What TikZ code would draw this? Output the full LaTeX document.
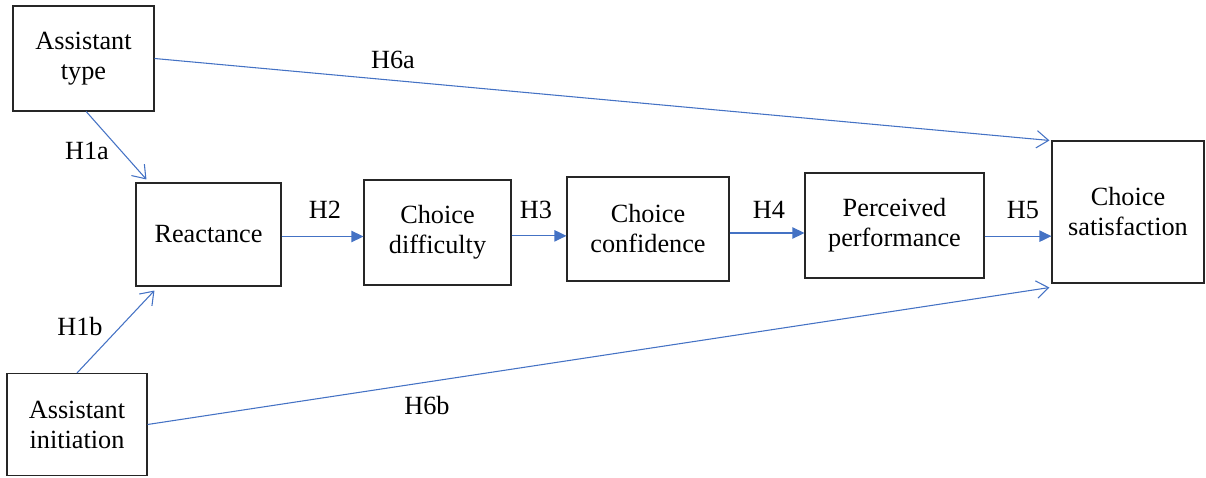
\documentclass[tikz,border=0pt]{standalone}
\usepackage{fontspec}
\setmainfont{Liberation Serif}
\usetikzlibrary{arrows.meta,calc}
\definecolor{lineblue}{HTML}{4472C4}
\tikzset{
  box/.style={draw=black!85, line width=0.8pt, align=center, inner sep=0pt, font=\fontsize{19.7}{22.5}\selectfont},
  lbl/.style={inner sep=0pt, font=\fontsize{19.7}{22.5}\selectfont},
  openarrow/.style={draw=lineblue, line width=0.8pt, -{Straight Barb[length=9pt,width=13pt,line width=0.8pt]}},
  fillarrow/.style={draw=lineblue, line width=0.8pt, -{Triangle[length=9pt,width=8.5pt]}, fill=lineblue},
}
\begin{document}
\begin{tikzpicture}[x=0.75pt,y=-0.75pt]
\useasboundingbox (0,0) rectangle (1206,478);
\node[box, minimum width=105.75pt, minimum height=78.75pt] (at) at (83.5,58.5) {Assistant\\type};
\node[box, minimum width=108.75pt, minimum height=77.25pt] (re) at (208.5,234.5) {Reactance};
\node[box, minimum width=110.25pt, minimum height=78.75pt] (cd) at (437.5,232.5) {Choice\\difficulty};
\node[box, minimum width=121.5pt, minimum height=78pt] (cc) at (648,229) {Choice\\confidence};
\node[box, minimum width=134.25pt, minimum height=78.75pt] (pp) at (894.5,225.5) {Perceived\\performance};
\node[box, minimum width=114pt, minimum height=106.5pt] (cs) at (1128,212) {Choice\\satisfaction};
\node[box, minimum width=105pt, minimum height=76.5pt] (ai) at (77,424.5) {Assistant\\initiation};

\draw[openarrow] (at.east) -- ([xshift=-1.5pt]cs.north west);
\draw[openarrow] ([xshift=2pt]at.south) -- ([xshift=8.25pt,yshift=2.25pt]re.north west);
\draw[openarrow] (ai.north) -- ([xshift=14.25pt,yshift=-3pt]re.south west);
\draw[openarrow] (ai.east) -- ([xshift=-1.5pt,yshift=-3pt]cs.south west);
\draw[fillarrow] ([yshift=-1.5pt]re.east) -- ([yshift=-1.5pt]re.east -| cd.west);
\draw[fillarrow] ([yshift=-2.5pt]cd.east) -- ([yshift=-2.5pt]cd.east -| cc.west);
\draw[fillarrow] ([yshift=-3pt]cc.east) -- ([yshift=-3pt]cc.east -| pp.west);
\draw[fillarrow] ([yshift=-8pt]pp.east) -- ([yshift=-8pt]pp.east -| cs.west);

\node[lbl] (l6a) at (393,60) {H6a};
\node[lbl] (l1a) at (87,151) {H1a};
\node[lbl] (l1b) at (80,327) {H1b};
\node[lbl] (l6b) at (427,406) {H6b};
\node[lbl] (l2) at (325,210) {H2};
\node[lbl] (l3) at (536,210) {H3};
\node[lbl] (l4) at (769,210) {H4};
\node[lbl] (l5) at (1023,210) {H5};
\end{tikzpicture}
\end{document}
